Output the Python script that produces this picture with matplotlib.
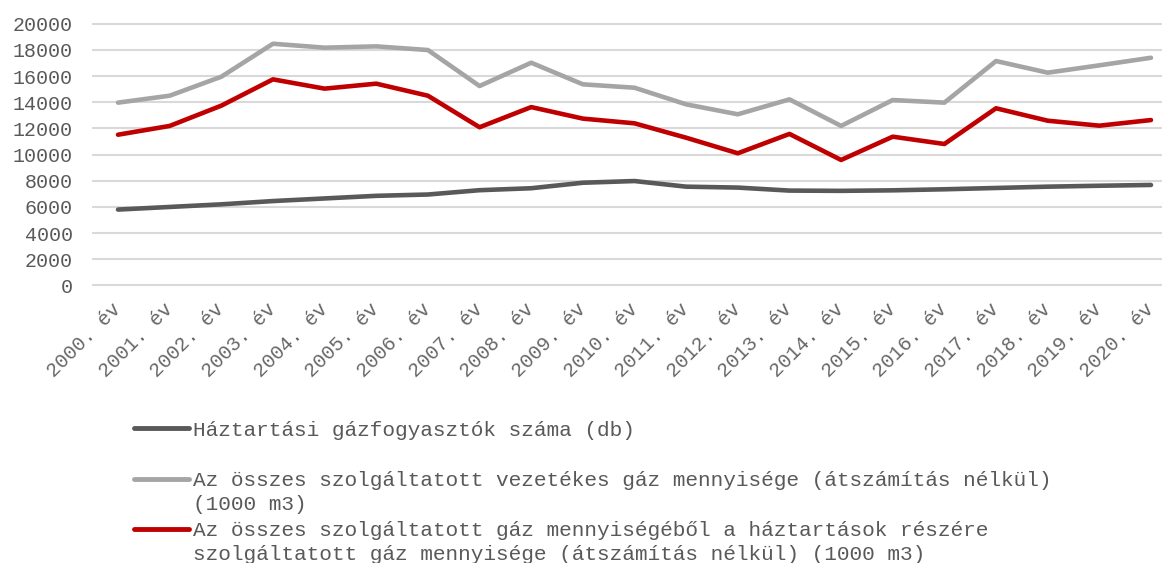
import matplotlib.pyplot as plt
from matplotlib.lines import Line2D

years = list(range(2000, 2021))
tick_labels = [f"{y}. év" for y in years]

households = [5800, 6000, 6200, 6450, 6650, 6850, 6950, 7280, 7430, 7850, 7980,
              7550, 7480, 7250, 7230, 7270, 7350, 7450, 7550, 7620, 7680]
total_gas = [13970, 14500, 15950, 18470, 18170, 18270, 17990, 15240, 17020, 15370, 15110,
             13840, 13080, 14220, 12190, 14170, 13970, 17150, 16260, 16820, 17400]
household_gas = [11520, 12190, 13740, 15750, 15040, 15420, 14500, 12090, 13630, 12750, 12390,
                 11290, 10100, 11580, 9590, 11370, 10810, 13540, 12590, 12210, 12640]

labels = [
    "Háztartási gázfogyasztók száma (db)",
    "Az összes szolgáltatott vezetékes gáz mennyisége (átszámítás nélkül)\n(1000 m3)",
    "Az összes szolgáltatott gáz mennyiségéből a háztartások részére\n"
    "szolgáltatott gáz mennyisége (átszámítás nélkül) (1000 m3)",
]
colors = ["#595959", "#A5A5A5", "#C00000"]
series = [households, total_gas, household_gas]

W, H = 1162, 563
FONT = "Liberation Mono"
TXT = "#595959"

fig = plt.figure(figsize=(W / 100, H / 100), dpi=100)
# axes placed in pixels: category slots of ~51.6 px, first slot starts at x=92
ax = fig.add_axes([92.2 / W, (H - 289.4) / H, 1084.6 / W, 269.6 / H])

x = list(range(len(years)))
for vals, c in zip(series, colors):
    ax.plot(x, vals, color=c, lw=3.3, solid_capstyle="round", solid_joinstyle="round", zorder=3)

ax.set_xlim(-0.5, len(years) - 0.5)
ax.set_ylim(-300, 20300)
ax.set_yticks(range(0, 20001, 2000))
ax.set_yticklabels([str(v) for v in range(0, 20001, 2000)], fontfamily=FONT, fontsize=14.4, color=TXT)
ax.set_xticks(x)
ax.set_xticklabels(tick_labels, rotation=45, ha="right", va="center", rotation_mode="anchor",
                   fontfamily=FONT, fontsize=14.4, color="#666666")
ax.tick_params(axis="y", length=0, pad=14)
ax.tick_params(axis="x", length=0, pad=12)
ax.grid(axis="y", color="#D9D9D9", lw=1.5, zorder=0)
for s in ax.spines.values():
    s.set_visible(False)

# legend drawn below the plot, handle aligned with the first line of each label
for i, (lab, c) in enumerate(zip(labels, colors)):
    y0 = [428, 479, 529][i]
    fig.add_artist(Line2D([134 / W, 189 / W], [1 - y0 / H, 1 - y0 / H], color=c, lw=3.5,
                          solid_capstyle="round", transform=fig.transFigure))
    for j, line in enumerate(lab.split("\n")):
        fig.text(193 / W, 1 - (y0 + 24 * j) / H, line, fontfamily=FONT, fontsize=15.2,
                 color=TXT, va="center_baseline", ha="left")

fig.savefig("out.png", dpi=100)
